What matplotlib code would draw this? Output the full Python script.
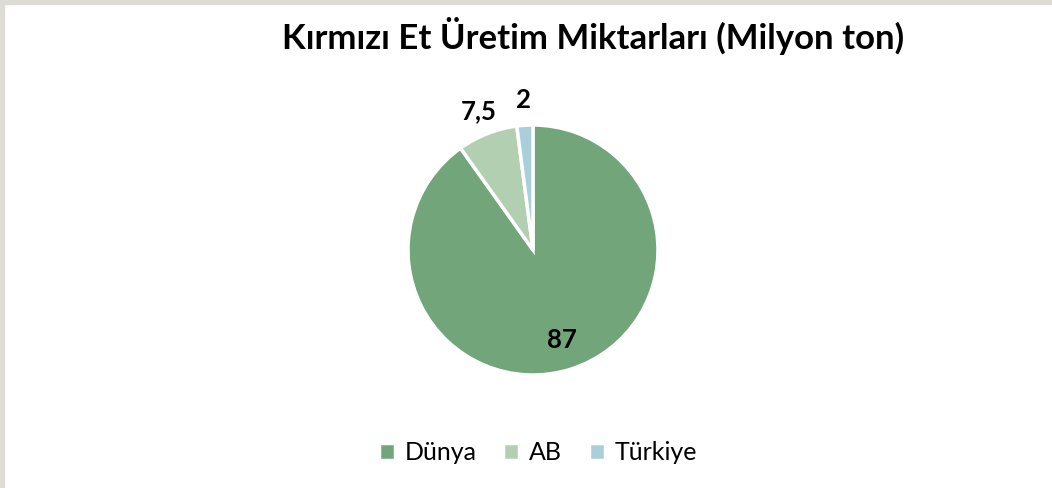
import numpy as np
import matplotlib as mpl
import matplotlib.pyplot as plt
from matplotlib.patches import Rectangle

# kirmizi et uretimi, milyon ton
labels = ['Dünya', 'AB', 'Türkiye']
values = [87, 7.5, 2]
value_text = ['87', '7,5', '2']
colors = ['#72a57a', '#b2cfb1', '#a9cfdb']

mpl.rcParams['font.family'] = ['Lato', 'DejaVu Sans']

fig = plt.figure(figsize=(10.52, 4.88), dpi=100)
fig.patch.set_facecolor('white')

# ince gri cerceve (ust ve sol)
fig.patches.append(Rectangle((0, 1 - 4/488), 1, 4/488, transform=fig.transFigure,
                             color='#dcdcd4', zorder=0))
fig.patches.append(Rectangle((0, 0), 4/1052, 1, transform=fig.transFigure,
                             color='#dcdcd4', zorder=0))

r_px = 127.5
ax = fig.add_axes([(533 - r_px) / 1052, (488 - 250 - r_px) / 488,
                   2 * r_px / 1052, 2 * r_px / 488])
wedges, texts = ax.pie(values, colors=colors, startangle=90, counterclock=False,
                       radius=1.0, labels=value_text, labeldistance=None,
                       wedgeprops=dict(edgecolor='white', linewidth=2.5))
ax.set_aspect('equal')

# deger etiketleri
total = sum(values)
start = 90.0
dists = [0.76, 1.19, 1.2]
for v, txt, d in zip(values, value_text, dists):
    span = v / total * 360
    mid = np.deg2rad(start - span / 2)
    ax.text(d * np.cos(mid), d * np.sin(mid), txt, ha='center', va='center',
            fontsize=18.5, fontweight='bold', color='black')
    start -= span

ax.set_xlim(-1.02, 1.02)
ax.set_ylim(-1.02, 1.02)

fig.text(593 / 1052, 1 - 36 / 488, 'Kırmızı Et Üretim Miktarları (Milyon ton)',
         ha='center', va='center', fontsize=25, fontweight='bold', color='black')

fig.legend(wedges, labels, loc='center', bbox_to_anchor=(538 / 1052, 1 - 453 / 488),
           ncol=3, frameon=False, fontsize=18, handlelength=0.65, handleheight=0.65,
           handletextpad=0.4, columnspacing=1.05)

fig.savefig('out.png', dpi=100)
